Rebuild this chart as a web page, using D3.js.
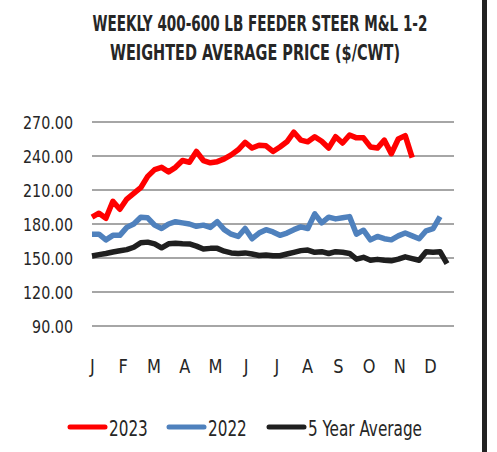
<!DOCTYPE html>
<html>
<head>
<meta charset="utf-8">
<script src="https://cdn.jsdelivr.net/npm/d3@7"></script>
<style>
  body { margin: 0; background: #fff; }
  svg { display: block; }
  text { font-family: "DejaVu Sans Condensed", "Liberation Sans Narrow", "Liberation Sans", sans-serif; fill: #262626; }
</style>
</head>
<body>
<svg width="497" height="452"></svg>
<script>
// weekly prices, $/cwt
var months = ["J", "F", "M", "A", "M ", "J ", "J  ", "A ", "S", "O", "N", "D"];
var yTicks = [90, 120, 150, 180, 210, 240, 270];

var y2023 = [186, 189.5, 185, 200, 193, 202, 207, 212, 222, 228, 230, 226, 230, 236, 234.5, 244,
    236, 234, 235, 237.5, 241, 245.5, 252, 247, 249.5, 249, 244, 248, 252.5, 261, 254, 252.5,
    257, 253, 247, 257, 251.5, 258.5, 256, 256, 248, 247, 254, 242, 255, 258, 238.5];
var y2022 = [171, 171, 166, 170, 170, 177, 180, 186, 185.5, 179, 176, 180, 182, 181, 180, 178,
    179, 177, 182, 175, 171, 169, 176, 167, 172, 175, 173, 170, 172, 175, 177.5, 176,
    189, 181, 186, 184.5, 185.5, 186.5, 171, 174.5, 166, 169, 167, 166, 169.5, 172, 169.5,
    167, 174, 176, 186.5];
var avg5 = [151.8, 153, 154, 155.3, 156.4, 157.4, 159.5, 163.5, 164, 162.5, 159, 162.5, 163,
    162.6, 162.4, 160.5, 158, 158.5, 158.5, 156, 154.5, 154, 154.5, 153.5, 152.2, 152.6, 152,
    152, 153.5, 155, 156.5, 157, 155, 155.6, 154, 155.6, 155, 154, 149, 150.6, 148, 148.8,
    148, 147.5, 149, 151, 149.5, 148, 155.6, 155, 155.6, 145];

var series = [
    {name: "2023", values: y2023, color: "#ff0000"},
    {name: "2022", values: y2022, color: "#4f81bd"},
    {name: "5 Year Average", values: avg5, color: "#1f1f1f"}
];

var svg = d3.select("svg");

var x = d3.scaleLinear().domain([0, 51]).range([92, 447]);
var y = d3.scaleLinear().domain([90, 270]).range([326, 122]);
var xm = d3.scalePoint().domain(months).range([92, 430]);

// shrink a text's font until it is as wide as the reference
function fitWidth(sel, size, width) {
    sel.style("font-size", size + "px");
    var w = sel.node().getComputedTextLength();
    sel.style("font-size", (size * width / w).toFixed(2) + "px");
}

// title (font is wider than the original, so fit width then stretch up)
var t1 = svg.append("text").attr("transform", "translate(260,31) scale(1,1.35)")
    .attr("text-anchor", "middle").style("font-weight", "bold")
    .text("WEEKLY 400-600 LB FEEDER STEER M&L 1-2");
fitWidth(t1, 23, 335);
var t2 = svg.append("text").attr("transform", "translate(255,60) scale(1,1.35)")
    .attr("text-anchor", "middle").style("font-weight", "bold")
    .text("WEIGHTED AVERAGE PRICE ($/CWT)");
fitWidth(t2, 23, 290);

// gridlines
svg.append("g").selectAll("line")
    .data(yTicks)
    .enter()
        .append("line")
        .attr("x1", 92).attr("x2", 454)
        .attr("y1", function(d) { return y(d); })
        .attr("y2", function(d) { return y(d); })
        .attr("stroke", "#a6a6a6")
        .attr("stroke-width", 2);

var yAxis = svg.append("g")
    .attr("transform", "translate(92,0)")
    .call(d3.axisLeft(y).tickValues(yTicks).tickFormat(d3.format(".2f")).tickSize(0).tickPadding(19));
yAxis.select(".domain").remove();
var yLab = yAxis.selectAll("text").attr("dy", null).attr("x", null)
    .attr("transform", "translate(-19,6.5) scale(1,1.15)")
    .attr("fill", "#262626").style("font-family", null);
fitWidth(yLab.filter(function(d) { return d == 270; }), 19, 50);
yLab.style("font-size", yLab.filter(function(d) { return d == 270; }).style("font-size"));

var xAxis = svg.append("g")
    .attr("transform", "translate(0,373)")
    .call(d3.axisBottom(xm).tickSize(0).tickPadding(0).tickFormat(function(d) { return d.trim(); }));
xAxis.select(".domain").remove();
xAxis.selectAll("text").attr("y", null).attr("dy", null)
    .attr("transform", "scale(1,1.12)")
    .style("font-size", "18px").attr("fill", "#262626").style("font-family", null);

var line = d3.line()
    .x(function(d, i) { return x(i); })
    .y(function(d) { return y(d); });

// draw 5yr first so red sits on top
svg.append("g").selectAll("path")
    .data(series.slice().reverse())
    .enter()
        .append("path")
        .attr("d", function(d) { return line(d.values); })
        .attr("fill", "none")
        .attr("stroke", function(d) { return d.color; })
        .attr("stroke-width", 5.5)
        .attr("stroke-linejoin", "round");

// legend
var legendPos = [68, 167, 267];
var legend = svg.append("g").selectAll("g")
    .data(series)
    .enter()
        .append("g")
        .attr("transform", function(d, i) { return "translate(" + legendPos[i] + ",427)"; });
legend.append("line")
    .attr("x1", 2).attr("x2", 37)
    .attr("stroke", function(d) { return d.color; })
    .attr("stroke-width", 5)
    .attr("stroke-linecap", "round");
var lt = legend.append("text")
    .attr("transform", "translate(41,9) scale(1,1.22)")
    .text(function(d) { return d.name; });
fitWidth(lt.filter(function(d, i) { return i == 2; }), 21, 114);
lt.style("font-size", lt.filter(function(d, i) { return i == 2; }).style("font-size"));

// frame edge at right
svg.append("rect").attr("x", 482).attr("y", 0).attr("width", 5).attr("height", 452).attr("fill", "#222");
</script>
</body>
</html>
